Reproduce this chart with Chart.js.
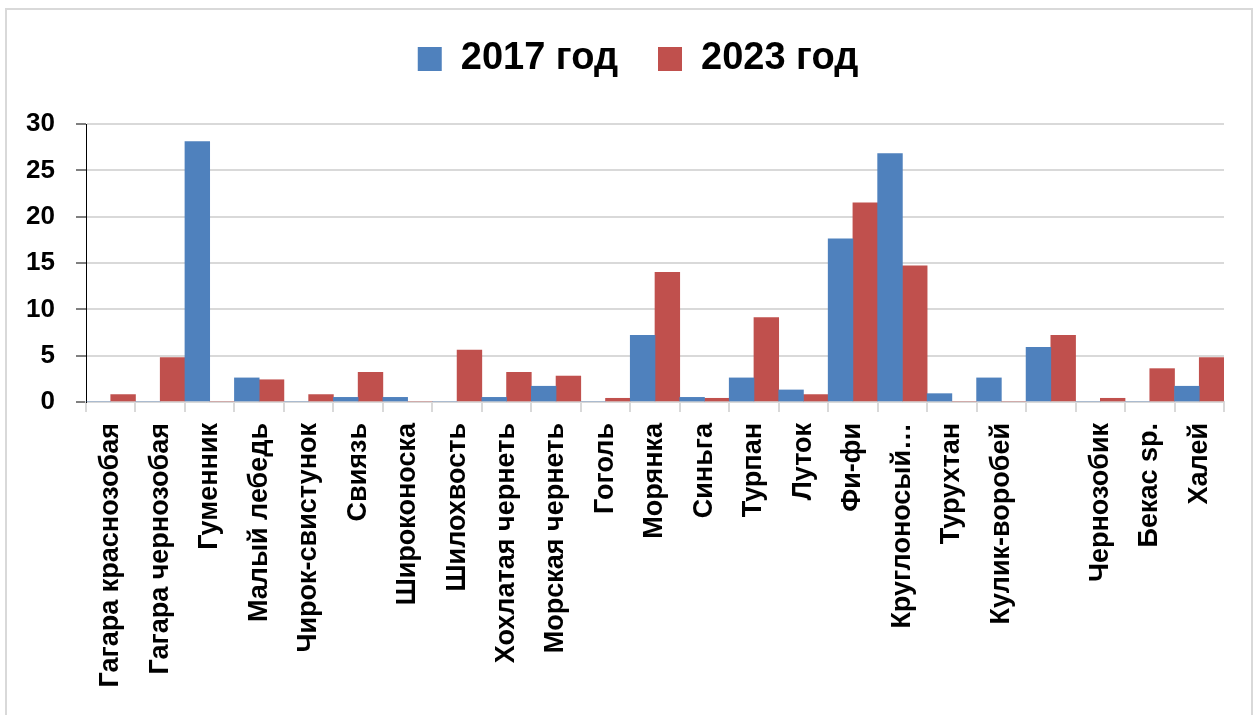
<!DOCTYPE html>
<html lang="ru">

<head>
    <meta charset="UTF-8">
    <title>Учёты птиц: 2017 и 2023 год</title>
    <script src="https://cdn.jsdelivr.net/npm/chart.js"></script>
    <style>
        html, body { margin: 0; padding: 0; background: #fff; overflow: hidden; }
        .frame { position: absolute; left: 5px; top: 8px; width: 1244px; height: 720px; border: 2px solid #d9d9d9; }
        .chart-container { position: absolute; left: 0; top: 0; width: 1259px; height: 715px; }
    </style>
</head>

<body>
    <div class="frame"></div>
    <div class="chart-container">
        <canvas id="birdsChart"></canvas>
    </div>

    <script>
        // Species on the x axis (one label is empty in the source chart)
        var species = ['Гагара краснозобая', 'Гагара чернозобая', 'Гуменник', 'Малый лебедь',
            'Чирок-свистунок', 'Свиязь', 'Широконоска', 'Шилохвость', 'Хохлатая чернеть',
            'Морская чернеть', 'Гоголь', 'Морянка', 'Синьга', 'Турпан', 'Луток', 'Фи-фи',
            'Круглоносый…', 'Турухтан', 'Кулик-воробей', '', 'Чернозобик', 'Бекас sp.', 'Халей'];

        var count2017 = [0, 0, 28.1, 2.6, 0, 0.5, 0.5, 0, 0.5, 1.7, 0, 7.2, 0.5, 2.6, 1.3,
            17.6, 26.8, 0.9, 2.6, 5.9, 0, 0, 1.7];
        var count2023 = [0.8, 4.8, 0, 2.4, 0.8, 3.2, 0, 5.6, 3.2, 2.8, 0.4, 14.0, 0.4, 9.1, 0.8,
            21.5, 14.7, 0, 0, 7.2, 0.4, 3.6, 4.8];

        var yMin = 0;
        var yMax = 30;
        var yStep = 5;

        // legend takes the whole band above the plot, nudged a bit right
        var legendSpace = {
            id: 'legendSpace',
            beforeLayout: function(chart) {
                var lg = chart.legend;
                if (lg && !lg._fixed) {
                    var fit = lg.fit.bind(lg);
                    lg.fit = function() {
                        fit();
                        this.height = 124;
                    };
                    lg._fixed = true;
                }
            },
            afterLayout: function(chart) {
                if (chart.legend) {
                    chart.legend.left += 26;
                    chart.legend.right += 26;
                }
            }
        };

        var ctx = document.getElementById('birdsChart').getContext('2d');
        new Chart(ctx, {
            type: 'bar',
            data: {
                labels: species,
                datasets: [{
                    label: '2017 год',
                    data: count2017,
                    backgroundColor: '#4F81BD',
                    borderWidth: 0
                }, {
                    label: '2023 год',
                    data: count2023,
                    backgroundColor: '#C0504D',
                    borderWidth: 0
                }]
            },
            options: {
                responsive: true,
                maintainAspectRatio: false,
                animation: false,
                categoryPercentage: 1.0,
                barPercentage: 1.0,
                layout: {
                    padding: { left: 0, right: 35, top: 0, bottom: 0 }
                },
                plugins: {
                    tooltip: { enabled: false },
                    legend: {
                        position: 'top',
                        labels: {
                            color: '#000',
                            font: { family: 'Liberation Sans', size: 38, weight: 'bold' },
                            boxWidth: 24,
                            boxHeight: 24,
                            padding: 40
                        }
                    }
                },
                scales: {
                    x: {
                        offset: true,
                        grid: {
                            display: true,
                            drawOnChartArea: false,
                            offset: true,
                            color: '#d9d9d9',
                            lineWidth: 2,
                            tickLength: 10
                        },
                        border: { color: '#d9d9d9', width: 2 },
                        ticks: {
                            color: '#000',
                            font: { family: 'Liberation Sans', size: 27, weight: 'bold' },
                            minRotation: 90,
                            maxRotation: 90,
                            autoSkip: false,
                            padding: 11
                        },
                        afterFit: function(scale) {
                            scale.height = 313;
                        }
                    },
                    y: {
                        min: yMin,
                        max: yMax,
                        grid: {
                            color: '#d9d9d9',
                            lineWidth: 2,
                            tickLength: 10,
                            tickColor: '#000',
                            tickWidth: 1
                        },
                        border: { color: '#000', width: 1 },
                        ticks: {
                            stepSize: yStep,
                            color: '#000',
                            font: { family: 'Liberation Sans', size: 26, weight: 'bold' },
                            padding: 21
                        },
                        afterFit: function(scale) {
                            scale.width = 86;
                        }
                    }
                }
            },
            plugins: [legendSpace]
        });
    </script>
</body>

</html>
